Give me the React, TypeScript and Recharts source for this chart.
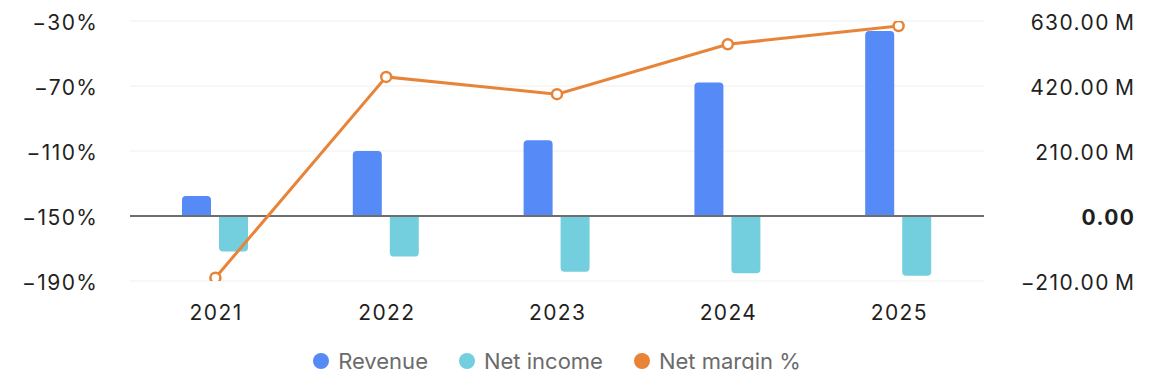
import React from 'react';
import { ComposedChart, Bar, Line, XAxis, YAxis, CartesianGrid, ReferenceLine, Legend } from 'recharts';

const years = ['2021', '2022', '2023', '2024', '2025'];
const revenueM = [64.5, 210, 245, 431, 598];
const netIncomeM = [-115, -131, -180, -185, -193];
const netMarginPct = [-188, -64.4, -75.0, -44.3, -33.1];
const leftTicks = [-190, -150, -110, -70, -30];
const rightTicks = [-210, 0, 210, 420, 630];
const legendOrder = ['Revenue', 'Net income', 'Net margin %'];

const data = years.map((year, i) => ({
  year,
  revenue: revenueM[i],
  netIncome: netIncomeM[i],
  netMargin: netMarginPct[i],
}));

const FONT = 'Inter, "Noto Sans", sans-serif';
const BLUE = '#568AF7';
const CYAN = '#73CFDE';
const ORANGE = '#E88438';
const TICK_COLOR = '#1f1f1f';
const LS = 1.4;

const minus = (v: number) => (v < 0 ? '\u2212' : '');

const LeftTick = (props: any) => {
  const { x, y, payload } = props;
  const v = payload.value as number;
  return (
    <text x={x + LS} y={y} dy={9} textAnchor="end" fontFamily={FONT} fontSize={21} letterSpacing={LS} fill={TICK_COLOR}>
      {minus(v) + Math.abs(v) + '%'}
    </text>
  );
};

const RightTick = (props: any) => {
  const { x, y, payload } = props;
  const v = payload.value as number;
  const label = v === 0 ? '0.00' : minus(v) + Math.abs(v).toFixed(2) + '\u2009M';
  return (
    <text
      x={x + 150 + LS}
      y={y}
      dy={9}
      textAnchor="end"
      fontFamily={FONT}
      fontSize={21}
      letterSpacing={LS}
      fontWeight={v === 0 ? 700 : 400}
      fill={TICK_COLOR}
    >
      {label}
    </text>
  );
};

const XTick = (props: any) => {
  const { x, y, payload } = props;
  return (
    <text x={x + LS / 2} y={y} dy={15} textAnchor="middle" fontFamily={FONT} fontSize={21} letterSpacing={LS} fill={TICK_COLOR}>
      {payload.value}
    </text>
  );
};

const LegendContent = (props: any) => {
  const payload: any[] = (props.payload || []).slice();
  payload.sort((a, b) => legendOrder.indexOf(a.value) - legendOrder.indexOf(b.value));
  return (
    <div
      style={{
        width: 1172,
        height: 30,
        boxSizing: 'border-box',
        paddingRight: 58,
        display: 'flex',
        justifyContent: 'center',
        fontFamily: FONT,
        fontSize: 22,
        color: '#6b6b6b',
        position: 'relative',
      }}
    >
      {payload.map((entry: any, i: number) => (
        <div
          key={i}
          style={{ display: 'flex', alignItems: 'flex-start', marginLeft: i === 0 ? 0 : 31, height: 30 }}
        >
          <span
            style={{
              display: 'inline-block',
              width: 16,
              height: 16,
              borderRadius: 8,
              background: entry.color,
              marginTop: 13,
              marginRight: 9,
            }}
          />
          <span style={{ lineHeight: '22px', marginTop: 10, whiteSpace: 'nowrap' }}>{entry.value}</span>
        </div>
      ))}
    </div>
  );
};

export default function App() {
  return (
    <div style={{ position: 'absolute', left: 0, top: 0, width: 1172, height: 370, overflow: 'hidden', background: '#fff' }}>
      <ComposedChart
        width={1172}
        height={370}
        data={data}
        margin={{ top: 21, right: 0, bottom: 0, left: 0 }}
        barSize={29}
        barGap={8}
      >
        <CartesianGrid yAxisId="left" vertical={false} stroke="#efefef" strokeWidth={1} />
        <XAxis
          dataKey="year"
          height={59}
          axisLine={false}
          tickLine={false}
          tickSize={0}
          tickMargin={24}
          tick={<XTick />}
          interval={0}
        />
        <YAxis
          yAxisId="left"
          orientation="left"
          width={130}
          domain={[-190, -30]}
          ticks={leftTicks}
          interval={0}
          axisLine={false}
          tickLine={false}
          tickSize={0}
          tickMargin={33}
          tick={<LeftTick />}
          allowDataOverflow
        />
        <YAxis
          yAxisId="right"
          orientation="right"
          width={188}
          domain={[-210, 630]}
          ticks={rightTicks}
          interval={0}
          axisLine={false}
          tickLine={false}
          tickSize={0}
          tickMargin={0}
          tick={<RightTick />}
          allowDataOverflow
        />
        <Bar yAxisId="right" dataKey="revenue" name="Revenue" fill={BLUE} radius={[4, 4, 0, 0]} isAnimationActive={false} />
        <Bar yAxisId="right" dataKey="netIncome" name="Net income" fill={CYAN} radius={[4, 4, 0, 0]} isAnimationActive={false} />
        <ReferenceLine yAxisId="right" y={0} stroke="#6e6e6e" strokeWidth={2} />
        <Line
          yAxisId="left"
          type="linear"
          dataKey="netMargin"
          name="Net margin %"
          stroke={ORANGE}
          strokeWidth={3}
          dot={{ r: 5, fill: '#fff', stroke: ORANGE, strokeWidth: 2.5 }}
          activeDot={false}
          isAnimationActive={false}
        />
        <Legend verticalAlign="bottom" align="left" wrapperStyle={{ left: 0, width: 1172 }} content={<LegendContent />} />
      </ComposedChart>
    </div>
  );
}
